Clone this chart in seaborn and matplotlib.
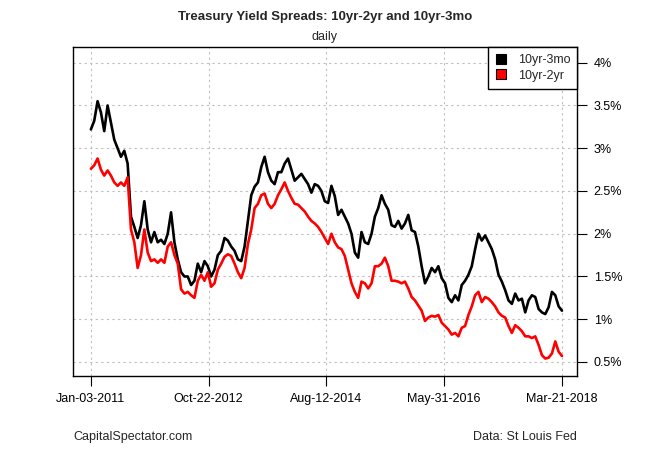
import numpy as np
import pandas as pd
import matplotlib
matplotlib.use("Agg")
import matplotlib.pyplot as plt
from matplotlib.lines import Line2D
import seaborn as sns

# ---- data ----
start_date = "2011-01-03"
end_date = "2018-03-21"

spread_10y3m = [
    3.22, 3.32, 3.55, 3.42, 3.20, 3.50, 3.30, 3.10, 3.00, 2.90, 2.97, 2.82, 2.20, 2.08, 1.95,
    2.10, 2.38, 2.05, 1.90, 2.02, 1.90, 1.93, 1.88, 2.00, 2.25, 1.90, 1.70, 1.55, 1.50,
    1.50, 1.40, 1.45, 1.65, 1.55, 1.68, 1.62, 1.50, 1.58, 1.75, 1.80, 1.95, 1.92, 1.85,
    1.80, 1.70, 1.68, 1.85, 2.15, 2.45, 2.55, 2.60, 2.78, 2.90, 2.72, 2.62, 2.58, 2.72,
    2.72, 2.82, 2.88, 2.75, 2.62, 2.66, 2.70, 2.64, 2.58, 2.48, 2.58, 2.56, 2.50, 2.38,
    2.36, 2.56, 2.44, 2.22, 2.28, 2.20, 2.12, 2.00, 1.78, 1.72, 2.02, 1.90, 1.88, 2.00, 2.20,
    2.30, 2.45, 2.35, 2.28, 2.10, 2.08, 2.15, 2.06, 2.12, 2.22, 2.04, 2.02, 1.85, 1.62,
    1.42, 1.50, 1.60, 1.55, 1.62, 1.48, 1.42, 1.25, 1.20, 1.28, 1.22, 1.40, 1.45, 1.52,
    1.62, 1.82, 2.00, 1.92, 1.98, 1.90, 1.82, 1.70, 1.52, 1.44, 1.34, 1.22, 1.18, 1.30,
    1.22, 1.24, 1.08, 1.22, 1.28, 1.26, 1.12, 1.08, 1.06, 1.14, 1.32, 1.28, 1.15, 1.10,
]
spread_10y2y = [
    2.76, 2.80, 2.88, 2.75, 2.68, 2.74, 2.68, 2.60, 2.56, 2.60, 2.56, 2.66, 2.05, 1.90, 1.60,
    1.75, 2.05, 1.78, 1.68, 1.70, 1.66, 1.70, 1.66, 1.85, 1.90, 1.75, 1.65, 1.35, 1.30,
    1.32, 1.28, 1.25, 1.45, 1.52, 1.45, 1.55, 1.38, 1.42, 1.58, 1.65, 1.73, 1.76, 1.74,
    1.65, 1.55, 1.48, 1.60, 1.88, 2.05, 2.30, 2.35, 2.45, 2.47, 2.35, 2.30, 2.35, 2.45,
    2.52, 2.60, 2.50, 2.42, 2.35, 2.34, 2.30, 2.26, 2.20, 2.15, 2.12, 2.08, 2.02, 1.95,
    1.88, 2.00, 1.90, 1.84, 1.82, 1.74, 1.58, 1.42, 1.32, 1.25, 1.44, 1.42, 1.36, 1.42, 1.62,
    1.62, 1.65, 1.72, 1.62, 1.45, 1.45, 1.44, 1.42, 1.44, 1.36, 1.26, 1.22, 1.16, 1.10,
    0.98, 1.02, 1.04, 1.03, 1.05, 0.96, 0.92, 0.88, 0.82, 0.84, 0.80, 0.90, 0.92, 1.05,
    1.15, 1.28, 1.32, 1.20, 1.26, 1.24, 1.20, 1.15, 1.08, 1.04, 1.02, 0.92, 0.84, 0.93,
    0.90, 0.86, 0.80, 0.80, 0.78, 0.80, 0.70, 0.58, 0.54, 0.55, 0.60, 0.74, 0.62, 0.57,
]

series_names = ["10yr-3mo", "10yr-2yr"]
series_colors = ["black", "#FF0000"]
tick_dates = ["2011-01-03", "2012-10-22", "2014-08-12", "2016-05-31", "2018-03-21"]
tick_labels = ["Jan-03-2011", "Oct-22-2012", "Aug-12-2014", "May-31-2016", "Mar-21-2018"]
y_ticks = [0.5, 1.0, 1.5, 2.0, 2.5, 3.0, 3.5, 4.0]
y_tick_labels = ["0.5%", "1%", "1.5%", "2%", "2.5%", "3%", "3.5%", "4%"]

title = "Treasury Yield Spreads: 10yr-2yr and 10yr-3mo"
subtitle = "daily"
footer_left = "CapitalSpectator.com"
footer_right = "Data: St Louis Fed"

# ---- build table ----
dates = pd.date_range(start_date, end_date, periods=len(spread_10y3m))
df = pd.DataFrame({"date": dates, series_names[0]: spread_10y3m, series_names[1]: spread_10y2y})
long_df = df.melt(id_vars="date", var_name="series", value_name="spread")

sns.set_style("white")
plt.rcParams["font.family"] = ["Liberation Sans", "DejaVu Sans"]

W, H = 650, 450
fig = plt.figure(figsize=(W / 100, H / 100), dpi=100)
L, R, T, B = 73, 577, 47, 376
ax = fig.add_axes([L / W, 1 - B / H, (R - L) / W, (B - T) / H])

sns.lineplot(data=long_df, x="date", y="spread", hue="series",
             hue_order=series_names,
             palette=dict(zip(series_names, series_colors)),
             linewidth=1.9, estimator=None, legend=False, ax=ax)

x0 = pd.Timestamp(tick_dates[0])
x1 = pd.Timestamp(tick_dates[-1])
ax.set_xlim(x0 - pd.Timedelta(days=100), x1 + pd.Timedelta(days=84))
ax.set_ylim(0.336, 4.184)

ax.set_xticks(pd.to_datetime(tick_dates))
ax.set_xticklabels(tick_labels)
ax.yaxis.tick_right()
ax.set_yticks(y_ticks)
ax.set_yticklabels(y_tick_labels)
ax.set_xlabel("")
ax.set_ylabel("")
ax.tick_params(axis="both", direction="out", length=7, width=0.8, color="black",
               labelsize=9, labelcolor="black", bottom=True, right=True, left=False)
ax.tick_params(axis="x", pad=5)
ax.tick_params(axis="y", pad=5)

ax.grid(True, color="#BEBEBE", linestyle=(0, (2, 3)), linewidth=0.8)
ax.set_axisbelow(True)
for s in ax.spines.values():
    s.set_visible(True)
    s.set_color("black")
    s.set_linewidth(1.0)

handles = [Line2D([0], [0], marker="s", linestyle="none", markerfacecolor=c,
                  markeredgecolor="black", markeredgewidth=0.8, markersize=7)
           for c in series_colors]
leg = ax.legend(handles, series_names, loc="upper right", bbox_to_anchor=(1, 1),
                borderaxespad=0, frameon=True, fancybox=False, edgecolor="black",
                framealpha=1, fontsize=9, handlelength=1.0, handletextpad=0.8,
                borderpad=0.55, labelspacing=0.3)
leg.get_frame().set_linewidth(1.0)

cx = (L + R) / 2 / W
fig.text(cx, 1 - 17 / H, title, ha="center", va="center", fontsize=9.5, fontweight="bold")
fig.text(cx, 1 - 37 / H, subtitle, ha="center", va="center", fontsize=9)
fig.text(L / W, 1 - 437 / H, footer_left, ha="left", va="center", fontsize=9)
fig.text(R / W, 1 - 437 / H, footer_right, ha="right", va="center", fontsize=9)

fig.savefig("out.png", dpi=100)
